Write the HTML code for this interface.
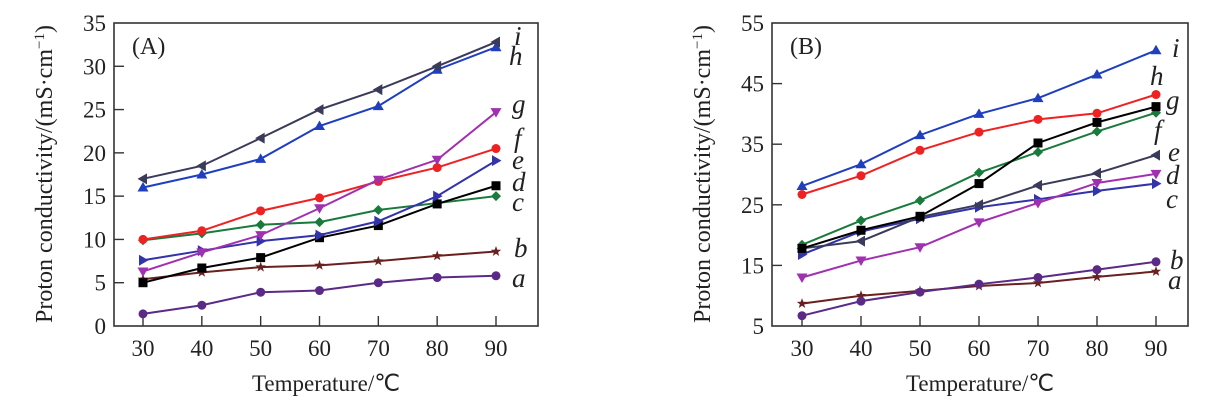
<!DOCTYPE html>
<html><head><meta charset="utf-8"><style>
html,body{margin:0;padding:0;background:#fff;}
svg{display:block;font-family:"Liberation Serif",serif;}
</style></head><body>
<svg id="chart" width="1220" height="406" xmlns="http://www.w3.org/2000/svg"></svg>
<script>
const temps=[30,40,50,60,70,80,90];
const aA=[1.4,2.4,3.9,4.1,5.0,5.6,5.8];
const aB=[5.4,6.2,6.8,7.0,7.5,8.1,8.6];
const aC=[9.9,10.7,11.7,12.0,13.4,14.2,15.0];
const aD=[5.0,6.7,7.9,10.2,11.6,14.1,16.2];
const aE=[7.6,8.7,9.8,10.5,12.1,15.0,19.1];
const aF=[10.0,11.0,13.3,14.8,16.7,18.3,20.5];
const aG=[6.3,8.5,10.5,13.6,16.9,19.2,24.7];
const aH=[16.0,17.5,19.3,23.1,25.4,29.6,32.2];
const aI=[17.0,18.5,21.7,25.0,27.3,30.0,32.8];
const bI=[28.1,31.7,36.5,40.0,42.6,46.5,50.5];
const bH=[26.7,29.8,34.0,37.0,39.1,40.1,43.2];
const bG=[17.8,20.8,23.1,28.5,35.2,38.6,41.2];
const bF=[18.4,22.4,25.7,30.3,33.7,37.1,40.2];
const bE=[17.8,19.0,23.0,25.0,28.2,30.2,33.2];
const bD=[13.0,15.8,18.0,22.1,25.3,28.6,30.1];
const bC=[16.8,20.6,22.7,24.6,25.9,27.3,28.5];
const bB=[6.7,9.1,10.6,11.9,13.0,14.3,15.6];
const bA=[8.7,10.0,10.8,11.6,12.1,13.1,14.0];
const yTicksA=[0,5,10,15,20,25,30,35];
const yTicksB=[5,15,25,35,45,55];

const NS="http://www.w3.org/2000/svg";
const svg=document.getElementById('chart');
function mk(tag,attrs,parent){const e=document.createElementNS(NS,tag);for(const k in attrs)e.setAttribute(k,attrs[k]);(parent||svg).appendChild(e);return e;}

function marker(g,type,x,y,c){
  let e;
  if(type==='circle'){e=mk('circle',{cx:x,cy:y,r:4.5,fill:c},g);}
  else if(type==='square'){e=mk('rect',{x:x-4.5,y:y-4.5,width:9,height:9,fill:c},g);}
  else if(type==='diamond'){e=mk('polygon',{points:`${x},${y-5} ${x+5},${y} ${x},${y+5} ${x-5},${y}`,fill:c},g);}
  else if(type==='up'){e=mk('polygon',{points:`${x},${y-5.5} ${x+5.5},${y+4} ${x-5.5},${y+4}`,fill:c},g);}
  else if(type==='down'){e=mk('polygon',{points:`${x},${y+5.5} ${x+5.5},${y-4} ${x-5.5},${y-4}`,fill:c},g);}
  else if(type==='right'){e=mk('polygon',{points:`${x+5.5},${y} ${x-4},${y-5.5} ${x-4},${y+5.5}`,fill:c},g);}
  else if(type==='left'){e=mk('polygon',{points:`${x-5.5},${y} ${x+4},${y-5.5} ${x+4},${y+5.5}`,fill:c},g);}
  else if(type==='star'){let p=[];for(let i=0;i<10;i++){const r=i%2?2.2:5.5;const a=-Math.PI/2+i*Math.PI/5;p.push((x+r*Math.cos(a)).toFixed(1)+','+(y+r*Math.sin(a)).toFixed(1));}e=mk('polygon',{points:p.join(' '),fill:c},g);}
  
  
}

function panel(cfg){
  const g=mk('g',{});
  
  
  const sx=v=>cfg.x30+(v-30)*(cfg.x90-cfg.x30)/60;
  const sy=v=>cfg.bottom-(v-cfg.ymin)*(cfg.bottom-cfg.top)/(cfg.ymax-cfg.ymin);
  const fr=mk('rect',{x:cfg.left,y:cfg.top,width:cfg.right-cfg.left,height:cfg.bottom-cfg.top,fill:'none',stroke:'#333','stroke-width':1.6},g);
  
  cfg.yTicks.forEach(t=>{
    const y=sy(t);
    if(t!==cfg.ymin&&t!==cfg.ymax){const l=mk('line',{x1:cfg.left,x2:cfg.left+10,y1:y,y2:y,stroke:'#333','stroke-width':1.4},g);}
    const tx=mk('text',{x:cfg.left-8,y:y+8,'text-anchor':'end','font-size':23,fill:'#222'},g);tx.textContent=t;
    
  });
  temps.forEach(t=>{
    const x=sx(t);
    const l=mk('line',{x1:x,x2:x,y1:cfg.bottom,y2:cfg.bottom-10,stroke:'#333','stroke-width':1.4},g);
    const tx=mk('text',{x:x,y:cfg.bottom+30,'text-anchor':'middle','font-size':23,fill:'#222'},g);tx.textContent=t;
    
  });
  const xl=mk('text',{x:(cfg.left+cfg.right)/2,y:391,'text-anchor':'middle','font-size':23,fill:'#222'},g);xl.textContent='Temperature/℃';
  
  const yl=mk('text',{x:0,y:0,'text-anchor':'middle','font-size':24,fill:'#222',transform:`translate(${cfg.ylx},174) rotate(-90)`},g);
  yl.innerHTML='Proton conductivity/(mS·cm<tspan baseline-shift="super" font-size="15">−1</tspan>)';
  
  const pl=mk('text',{x:cfg.left+18,y:cfg.top+31,'font-size':24,fill:'#222'},g);pl.textContent=cfg.label;
  
  cfg.series.forEach(s=>{
    const sg=mk('g',{},g);
    
    
    const pl=mk('polyline',{points:s.data.map((v,i)=>sx(temps[i])+','+sy(v)).join(' '),fill:'none',stroke:s.c,'stroke-width':2},sg);
    
    s.data.forEach((v,i)=>marker(sg,s.m,sx(temps[i]),sy(v),s.c));
    const lt=mk('text',{x:s.lx,y:s.ly,'font-size':27,'font-style':'italic',fill:'#222'},g);lt.textContent=s.id;
    
  });
}

panel({name:'panel-a',label:'(A)',left:114,right:538,top:23,bottom:326,x30:143,x90:496,ymin:0,ymax:35,yTicks:yTicksA,ylx:52,
series:[
 {id:'a',data:aA,c:'#5b2a86',m:'circle',lx:512,ly:287},
 {id:'b',data:aB,c:'#6b2020',m:'star',lx:514,ly:257},
 {id:'c',data:aC,c:'#1a7a3c',m:'diamond',lx:512,ly:211},
 {id:'d',data:aD,c:'#000000',m:'square',lx:512,ly:191},
 {id:'e',data:aE,c:'#3333aa',m:'right',lx:512,ly:169},
 {id:'f',data:aF,c:'#ee2222',m:'circle',lx:514,ly:147},
 {id:'g',data:aG,c:'#a030b0',m:'down',lx:512,ly:113},
 {id:'h',data:aH,c:'#1f3fbf',m:'up',lx:509,ly:65},
 {id:'i',data:aI,c:'#3a3a5a',m:'left',lx:514,ly:45}
]});
panel({name:'panel-b',label:'(B)',left:772,right:1188,top:23,bottom:326,x30:802,x90:1156,ymin:5,ymax:55,yTicks:yTicksB,ylx:710,
series:[
 {id:'a',data:bA,c:'#6b2020',m:'star',lx:1168,ly:289},
 {id:'b',data:bB,c:'#5b2a86',m:'circle',lx:1170,ly:269},
 {id:'c',data:bC,c:'#3333aa',m:'right',lx:1166,ly:208},
 {id:'d',data:bD,c:'#a030b0',m:'down',lx:1166,ly:184},
 {id:'e',data:bE,c:'#3a3a5a',m:'left',lx:1168,ly:161},
 {id:'f',data:bF,c:'#1a7a3c',m:'diamond',lx:1154,ly:139},
 {id:'g',data:bG,c:'#000000',m:'square',lx:1166,ly:109},
 {id:'h',data:bH,c:'#ee2222',m:'circle',lx:1150,ly:85},
 {id:'i',data:bI,c:'#1f3fbf',m:'up',lx:1172,ly:57}
]});
</script>
</body></html>
